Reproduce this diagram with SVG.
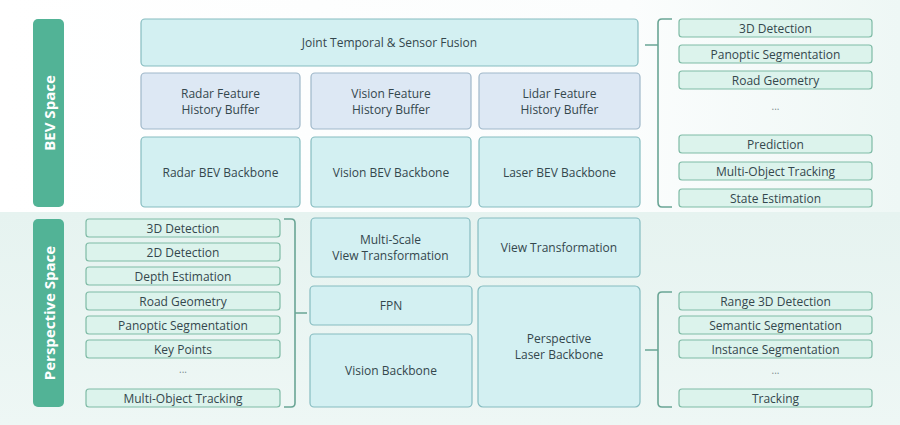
<svg xmlns="http://www.w3.org/2000/svg" width="900" height="425" viewBox="0 0 900 425">
<defs>
<linearGradient id="bgTop" x1="0" y1="0" x2="1" y2="0">
<stop offset="0" stop-color="#ffffff"/>
<stop offset="0.7" stop-color="#fbfdfd"/>
<stop offset="1" stop-color="#eef7f5"/>
</linearGradient>
<linearGradient id="bgBot" x1="0" y1="0" x2="0" y2="1">
<stop offset="0" stop-color="#e6f3f0"/>
<stop offset="1" stop-color="#eef7f5"/>
</linearGradient>
</defs>
<style>
.bar{fill:#52b396;}
.barText{font-family:"Open Sans","Noto Sans",sans-serif;font-size:15px;font-weight:bold;fill:#ffffff;text-anchor:middle;dominant-baseline:central;}
.main{fill:#d3f0f2;stroke:#86bcc0;stroke-width:1.2;}
.buf{fill:#dde8f4;stroke:#9fb7c9;stroke-width:1.2;}
.out{fill:#dcf3ec;stroke:#7fbba6;stroke-width:1.2;}
.t{font-family:"Open Sans","Noto Sans",sans-serif;font-size:12px;fill:#34474d;text-anchor:middle;dominant-baseline:central;}
.dots{font-family:"Open Sans","Noto Sans",sans-serif;font-size:10px;fill:#7a8a8e;text-anchor:middle;}
.brace{fill:none;stroke:#6aa595;stroke-width:1.6;}
</style>
<rect x="0" y="0" width="900" height="212" fill="url(#bgTop)"/>
<rect x="0" y="212" width="900" height="213" fill="url(#bgBot)"/>

<g id="bev-space"><rect class="bar" x="33" y="19" width="31" height="188" rx="5"/><text class="barText" transform="translate(48.5,113) rotate(-90)">BEV Space</text></g>
<g id="perspective-space"><rect class="bar" x="33" y="219" width="31" height="188" rx="5"/><text class="barText" transform="translate(48.5,313) rotate(-90)">Perspective Space</text></g>

<g id="joint-fusion"><rect class="main" x="141" y="19" width="497" height="47" rx="4"/><text class="t" x="389.5" y="42.5">Joint Temporal &amp; Sensor Fusion</text></g>
<g id="radar-buffer"><rect class="buf" x="141" y="73" width="159" height="56" rx="4"/><text class="t" x="220.5" y="93">Radar Feature</text><text class="t" x="220.5" y="109.5">History Buffer</text></g>
<g id="vision-buffer"><rect class="buf" x="311" y="73" width="160" height="56" rx="4"/><text class="t" x="391" y="93">Vision Feature</text><text class="t" x="391" y="109.5">History Buffer</text></g>
<g id="lidar-buffer"><rect class="buf" x="479" y="73" width="161" height="56" rx="4"/><text class="t" x="559.5" y="93">Lidar Feature</text><text class="t" x="559.5" y="109.5">History Buffer</text></g>
<g id="radar-bev"><rect class="main" x="141" y="137" width="159" height="70" rx="4"/><text class="t" x="220.5" y="172">Radar BEV Backbone</text></g>
<g id="vision-bev"><rect class="main" x="311" y="137" width="160" height="70" rx="4"/><text class="t" x="391" y="172">Vision BEV Backbone</text></g>
<g id="laser-bev"><rect class="main" x="479" y="137" width="161" height="70" rx="4"/><text class="t" x="559.5" y="172">Laser BEV Backbone</text></g>

<g id="bev-outputs">
<g id="bev-3d"><rect class="out" x="679" y="19" width="193" height="18" rx="3"/><text class="t" x="775.5" y="28">3D Detection</text></g>
<g id="bev-panoptic"><rect class="out" x="679" y="45" width="193" height="18" rx="3"/><text class="t" x="775.5" y="54">Panoptic Segmentation</text></g>
<g id="bev-road"><rect class="out" x="679" y="71" width="193" height="18" rx="3"/><text class="t" x="775.5" y="80">Road Geometry</text></g>
<text class="dots" x="775.5" y="110">...</text>
<g id="bev-prediction"><rect class="out" x="679" y="135" width="193" height="18" rx="3"/><text class="t" x="775.5" y="144">Prediction</text></g>
<g id="bev-mot"><rect class="out" x="679" y="162" width="193" height="18" rx="3"/><text class="t" x="775.5" y="171">Multi-Object Tracking</text></g>
<g id="bev-state"><rect class="out" x="679" y="189" width="193" height="18" rx="3"/><text class="t" x="775.5" y="198">State Estimation</text></g>
</g>

<g id="msvt"><rect class="main" x="311" y="218" width="159" height="59" rx="4"/><text class="t" x="390.5" y="239">Multi-Scale</text><text class="t" x="390.5" y="255.5">View Transformation</text></g>
<g id="view-transform"><rect class="main" x="478" y="218" width="162" height="59" rx="4"/><text class="t" x="559" y="247">View Transformation</text></g>
<g id="fpn"><rect class="main" x="310" y="286" width="162" height="39" rx="4"/><text class="t" x="391" y="305">FPN</text></g>
<g id="vision-backbone"><rect class="main" x="310" y="334" width="162" height="73" rx="4"/><text class="t" x="391" y="370">Vision Backbone</text></g>
<g id="persp-laser"><rect class="main" x="478" y="286" width="162" height="121" rx="5"/><text class="t" x="559" y="338">Perspective</text><text class="t" x="559" y="354.5">Laser Backbone</text></g>

<g id="persp-outputs">
<g id="p-3d"><rect class="out" x="86" y="219" width="194" height="18" rx="3"/><text class="t" x="183" y="228">3D Detection</text></g>
<g id="p-2d"><rect class="out" x="86" y="243" width="194" height="18" rx="3"/><text class="t" x="183" y="252">2D Detection</text></g>
<g id="p-depth"><rect class="out" x="86" y="267" width="194" height="18" rx="3"/><text class="t" x="183" y="276">Depth Estimation</text></g>
<g id="p-road"><rect class="out" x="86" y="292" width="194" height="18" rx="3"/><text class="t" x="183" y="301">Road Geometry</text></g>
<g id="p-panoptic"><rect class="out" x="86" y="316" width="194" height="18" rx="3"/><text class="t" x="183" y="325">Panoptic Segmentation</text></g>
<g id="p-keypoints"><rect class="out" x="86" y="340" width="194" height="18" rx="3"/><text class="t" x="183" y="349">Key Points</text></g>
<text class="dots" x="183" y="373">...</text>
<g id="p-mot"><rect class="out" x="86" y="389" width="194" height="18" rx="3"/><text class="t" x="183" y="398">Multi-Object Tracking</text></g>
</g>

<g id="laser-outputs">
<g id="l-range"><rect class="out" x="679" y="292" width="193" height="18" rx="3"/><text class="t" x="775.5" y="301">Range 3D Detection</text></g>
<g id="l-semantic"><rect class="out" x="679" y="316" width="193" height="18" rx="3"/><text class="t" x="775.5" y="325">Semantic Segmentation</text></g>
<g id="l-instance"><rect class="out" x="679" y="340" width="193" height="18" rx="3"/><text class="t" x="775.5" y="349">Instance Segmentation</text></g>
<text class="dots" x="775.5" y="374">...</text>
<g id="l-tracking"><rect class="out" x="679" y="389" width="193" height="18" rx="3"/><text class="t" x="775.5" y="398">Tracking</text></g>
</g>

<g id="connectors">
<path class="brace" d="M672 19 H662 Q658 19 658 23 V202 Q658 207 662 207 H672 M658 45 H645"/>
<path class="brace" d="M284 219 H291 Q295 219 295 223 V403 Q295 407 291 407 H284 M295 313 H307"/>
<path class="brace" d="M672 292 H662 Q658 292 658 296 V403 Q658 407 662 407 H672 M658 350 H645"/>
</g>
</svg>
